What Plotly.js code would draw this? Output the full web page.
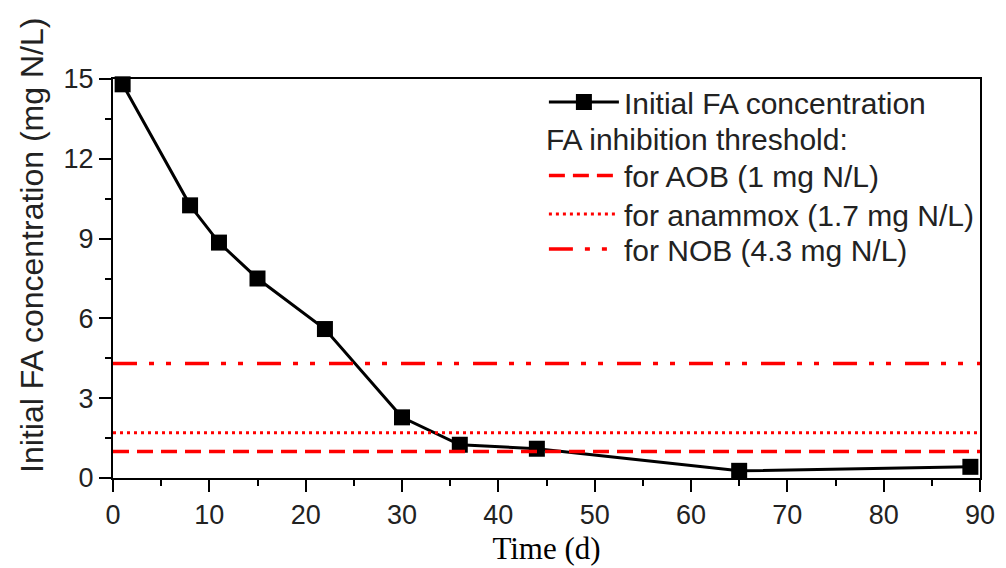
<!DOCTYPE html>
<html>
<head>
<meta charset="utf-8">
<script src="https://cdn.plot.ly/plotly-3.0.1.min.js"></script>
<style>html,body{margin:0;padding:0;background:#fff;}#chart{width:1006px;height:568px;}</style>
</head>
<body>
<div id="chart"></div>
<script>
// Data
const days = [1, 8, 11, 15, 22, 30, 36, 44, 65, 89];
const initialFA = [14.8, 10.25, 8.85, 7.5, 5.6, 2.28, 1.25, 1.1, 0.27, 0.42];
const thresholdNames = ['for AOB (1 mg N/L)', 'for anammox (1.7 mg N/L)', 'for NOB (4.3 mg N/L)'];
const thresholdValues = [1, 1.7, 4.3];
const thresholdSpan = [0, 90];
const xTicks = [0, 10, 20, 30, 40, 50, 60, 70, 80, 90];
const yTicks = [0, 3, 6, 9, 12, 15];

const dashes = ['16px,8px', '3px,4px', '24px,12px,5px,12px,5px,14px'];
const widths = [3.5, 3, 3.5];
const legendIds = ['legend2', 'legend3', 'legend4'];

const traces = [{
  x: days, y: initialFA, type: 'scatter', mode: 'lines+markers',
  name: 'Initial FA concentration',
  line: {color: '#000', width: 3},
  marker: {symbol: 'square', size: 16, color: '#000'},
  cliponaxis: false,
  legend: 'legend'
}];
thresholdValues.forEach((v, i) => {
  traces.push({
    x: thresholdSpan, y: thresholdSpan.map(() => v), type: 'scatter', mode: 'lines',
    name: thresholdNames[i],
    line: {color: '#ff0000', width: widths[i], dash: dashes[i]},
    legend: legendIds[i]
  });
});

const sans = 'Liberation Sans, Arial, sans-serif';
const axisFont = {family: sans, size: 27, color: '#222'};
const legFont = {family: sans, size: 30, color: '#222'};
const legBase = {xanchor: 'left', yanchor: 'top', bgcolor: 'rgba(0,0,0,0)', borderwidth: 0, itemwidth: 70, font: legFont, x: 0.497};
const layout = {
  width: 1006, height: 568,
  margin: {l: 113, r: 26, t: 79, b: 90, pad: 0},
  paper_bgcolor: '#fff', plot_bgcolor: '#fff',
  showlegend: true,
  xaxis: {
    range: [0, 90], tickvals: xTicks, ticktext: xTicks.map(String),
    ticks: 'outside', ticklen: 12, tickwidth: 2, tickcolor: '#000',
    minor: {dtick: 5, ticks: 'outside', ticklen: 6, tickwidth: 2, tickcolor: '#000', tick0: 0},
    showline: true, linecolor: '#000', linewidth: 2, mirror: true,
    showgrid: false, zeroline: false, tickfont: axisFont,
    title: {text: 'Time (d)', font: {family: 'Liberation Serif, Times New Roman, serif', size: 31, color: '#000'}, standoff: 8}
  },
  yaxis: {
    range: [0, 15], tickvals: yTicks, ticktext: yTicks.map(String),
    ticks: 'outside', ticklen: 12, tickwidth: 2, tickcolor: '#000',
    minor: {dtick: 1.5, ticks: 'outside', ticklen: 6, tickwidth: 2, tickcolor: '#000', tick0: 0},
    showline: true, linecolor: '#000', linewidth: 2, mirror: true,
    showgrid: false, zeroline: false, tickfont: axisFont
  },
  annotations: [{
    text: 'Initial FA concentration (mg N/L)', textangle: -90,
    xref: 'paper', yref: 'paper', x: -0.0935, y: 0.584, xanchor: 'center', yanchor: 'middle',
    showarrow: false, font: {family: sans, size: 32, color: '#222'}
  }],
  legend: Object.assign({}, legBase, {y: 1.0075}),
  legend2: Object.assign({}, legBase, {y: 0.921, title: {text: 'FA inhibition threshold:', font: legFont}}),
  legend3: Object.assign({}, legBase, {y: 0.7268}),
  legend4: Object.assign({}, legBase, {y: 0.639})
};

Plotly.newPlot('chart', traces, layout, {displayModeBar: false, staticPlot: true});
</script>
</body>
</html>
